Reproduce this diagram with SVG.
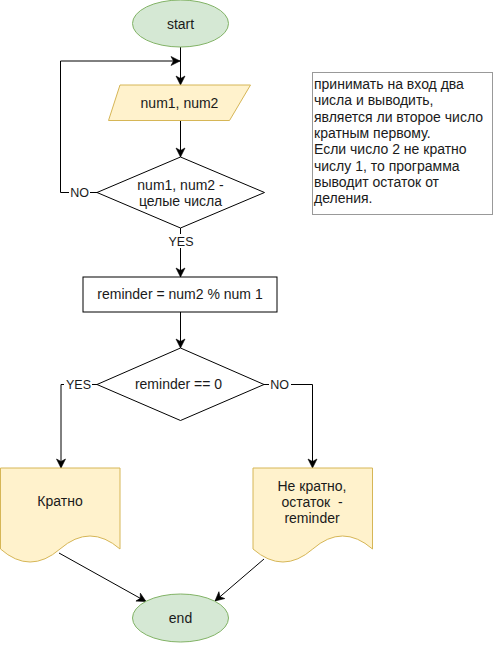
<svg xmlns="http://www.w3.org/2000/svg" width="495" height="645" viewBox="0 0 495 645">
<style>
text{font-family:"Liberation Sans",Arial,sans-serif;font-size:14px;fill:#1a1a1a}
.c{text-anchor:middle}
.lbl{font-size:12.5px}
.term{fill:#d5e8d4;stroke:#82b366;stroke-width:1}
.io{fill:#fff2cc;stroke:#d6b656;stroke-width:1}
.proc{fill:#ffffff;stroke:#000;stroke-width:1}
.edge{fill:none;stroke:#000;stroke-width:1}
.lbg{fill:#fff}
</style>
<defs>
<marker id="arr" markerUnits="userSpaceOnUse" markerWidth="12" markerHeight="12" viewBox="-10 -6 12 12" refX="0" refY="0" orient="auto">
<path d="M0,0 L-9,-4.5 L-6.5,0 L-9,4.5 Z" fill="#000" stroke="#000" stroke-width="0.6"/>
</marker>
</defs>
<rect width="495" height="645" fill="#fff"/>
<g id="connectors">
<path class="edge" d="M180.5,47 V85" marker-end="url(#arr)"/>
<path class="edge" d="M97,192.5 H60.5 V61 H180" marker-end="url(#arr)"/>
<path class="edge" d="M180.5,120 V157" marker-end="url(#arr)"/>
<path class="edge" d="M180.5,228 V277" marker-end="url(#arr)"/>
<path class="edge" d="M180.5,312 V348" marker-end="url(#arr)"/>
<path class="edge" d="M97,384.5 H61 V468" marker-end="url(#arr)"/>
<path class="edge" d="M264,384.5 H312.5 V468" marker-end="url(#arr)"/>
<path class="edge" d="M59,553 L146,601.5" marker-end="url(#arr)"/>
<path class="edge" d="M264,559 L215,601" marker-end="url(#arr)"/>
<rect class="lbg" x="69" y="185" width="21" height="15"/>
<text class="c lbl" x="79.5" y="197">NO</text>
<rect class="lbg" x="167" y="234" width="28" height="14"/>
<text class="c lbl" x="181" y="246">YES</text>
<rect class="lbg" x="64" y="377" width="28" height="15"/>
<text class="c lbl" x="78.5" y="389">YES</text>
<rect class="lbg" x="269" y="377" width="22" height="15"/>
<text class="c lbl" x="279.5" y="389">NO</text>
</g>
<g id="start">
<ellipse class="term" cx="180.5" cy="23.5" rx="48" ry="23.5"/>
<text class="c" x="180.5" y="28.5">start</text>
</g>
<g id="input">
<polygon class="io" points="120,85 250.5,85 229.5,120.5 108.5,120.5"/>
<text class="c" x="179.5" y="107.5">num1, num2</text>
</g>
<g id="check">
<polygon class="proc" points="180.5,157 264.5,192.5 180.5,228 97,192.5"/>
<text class="c" x="180.5" y="190">num1, num2 -</text>
<text class="c" x="180.5" y="206">целые числа</text>
</g>
<g id="calc">
<rect class="proc" x="83" y="277" width="194" height="35"/>
<text class="c" x="180" y="299">reminder = num2 % num 1</text>
</g>
<g id="cond">
<polygon class="proc" points="180.5,348 264,384.5 180.5,420.5 97,384.5"/>
<text class="c" x="178.5" y="389">reminder == 0</text>
</g>
<g id="yes-doc">
<path class="io" d="M0.5,468 H120 V549 Q90,523 60,549 Q30,575 0.5,549 Z"/>
<text class="c" x="60" y="506">Кратно</text>
</g>
<g id="no-doc">
<path class="io" d="M253,468 H372.5 V549 Q342.5,523 312.75,549 Q283,575 253,549 Z"/>
<text class="c" x="312" y="490.5">Не кратно,</text>
<text class="c" x="312" y="506.5" xml:space="preserve">остаток  -</text>
<text class="c" x="312" y="523">reminder</text>
</g>
<g id="end">
<ellipse class="term" cx="180.5" cy="618" rx="48" ry="24"/>
<text class="c" x="180.5" y="623">end</text>
</g>
<g id="note">
<rect x="312.5" y="72.5" width="180" height="142" fill="#fff" stroke="#999" stroke-width="1"/>
<text x="314" y="89">принимать на вход два</text>
<text x="314" y="105.3">числа и выводить,</text>
<text x="314" y="121.6">является ли второе число</text>
<text x="314" y="137.9">кратным первому.</text>
<text x="314" y="154.2">Если число 2 не кратно</text>
<text x="314" y="170.5">числу 1, то программа</text>
<text x="314" y="186.8">выводит остаток от</text>
<text x="314" y="203.1">деления.</text>
</g>
</svg>
